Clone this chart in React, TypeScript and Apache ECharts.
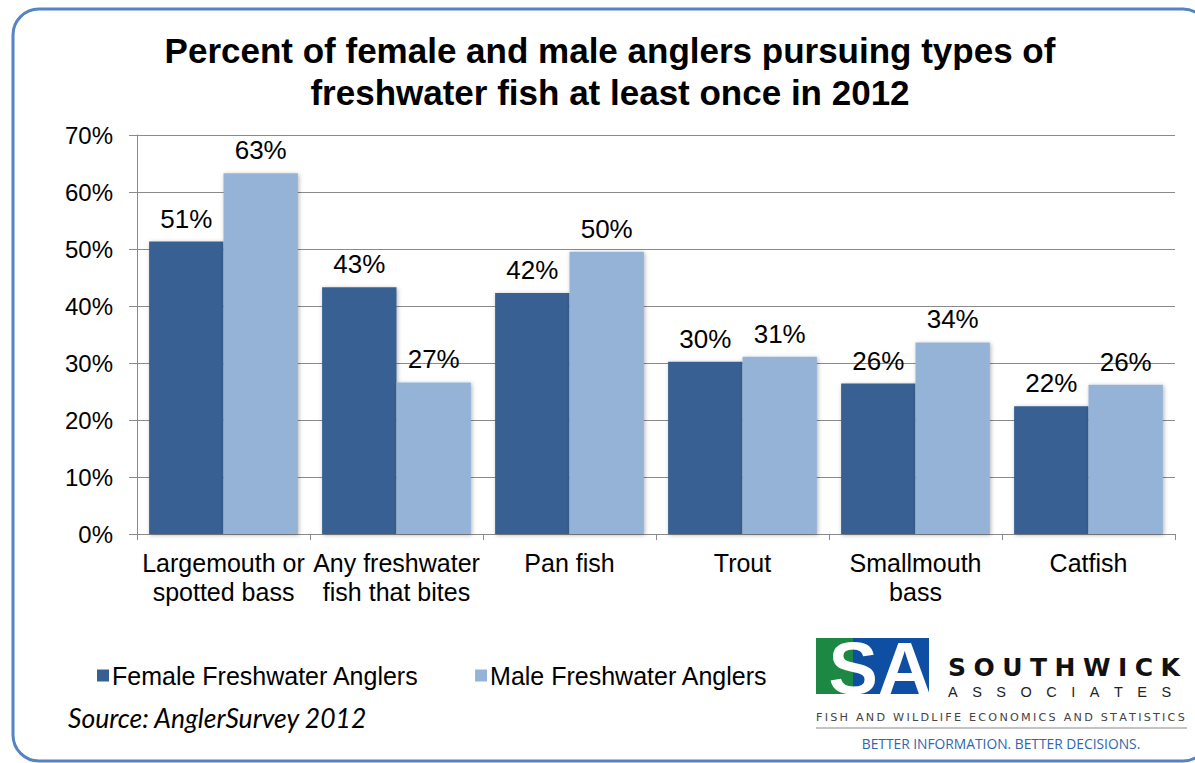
import React, { useEffect, useRef } from "react";
import * as echarts from "echarts";

const categories = [
  "Largemouth or\nspotted bass",
  "Any freshwater\nfish that bites",
  "Pan fish",
  "Trout",
  "Smallmouth\nbass",
  "Catfish",
];
const femaleValues = [51.3, 43.3, 42.3, 30.2, 26.4, 22.4];
const maleValues = [63.3, 26.6, 49.5, 31.1, 33.6, 26.2];
const seriesNames = ["Female Freshwater Anglers", "Male Freshwater Anglers"];
const yTicks = { min: 0, max: 70, interval: 10 };
const titleLines = [
  "Percent of female and male anglers pursuing types of",
  "freshwater fish at least once in 2012",
];
const sourceText = "Source: AnglerSurvey 2012";

const FONT = '"Liberation Sans", Arial, sans-serif';
const DARK = "#376092";
const LIGHT = "#95B3D7";
const GRID = "#8A8A8A";

const spaced = (s: string, sep: string) => s.split("").join(sep);

function text(x: number, y: number, t: string, st: any) {
  return {
    type: "text",
    x,
    y,
    silent: true,
    style: {
      text: t,
      fill: "#000",
      fontFamily: FONT,
      align: st.align || "left",
      textAlign: st.align || "left",
      verticalAlign: "middle",
      textVerticalAlign: "middle",
      ...st,
    },
  };
}

export default function App() {
  const ref = useRef<HTMLDivElement>(null);

  useEffect(() => {
    if (!ref.current) return;
    const chart = echarts.init(ref.current, undefined, { renderer: "svg" });
    const pct = (p: any) => Math.round(p.value) + "%";
    const barLabel = {
      show: true,
      position: "top",
      distance: 10,
      formatter: pct,
      color: "#000",
      fontSize: 26,
      fontFamily: FONT,
    };
    const shadow = {
      shadowBlur: 4,
      shadowColor: "rgba(0,0,0,0.3)",
      shadowOffsetX: 1,
      shadowOffsetY: 1,
    };

    chart.setOption({
      animation: false,
      backgroundColor: "#fff",
      textStyle: { fontFamily: FONT },
      grid: { left: 137, right: 20, top: 135, bottom: 229, containLabel: false },
      legend: {
        left: 92,
        top: 658,
        icon: "rect",
        itemWidth: 12,
        itemHeight: 12,
        itemGap: 56,
        textStyle: { fontSize: 25, color: "#000", fontFamily: FONT, padding: [0, 0, 0, -2] },
        data: seriesNames,
      },
      xAxis: {
        type: "category",
        data: categories,
        axisLine: { lineStyle: { color: GRID, width: 1 } },
        axisTick: { show: true, length: 6, lineStyle: { color: GRID } },
        axisLabel: {
          color: "#000",
          fontSize: 25,
          lineHeight: 29,
          margin: 14,
          interval: 0,
          fontFamily: FONT,
        },
      },
      yAxis: {
        type: "value",
        min: yTicks.min,
        max: yTicks.max,
        interval: yTicks.interval,
        axisLine: { show: true, lineStyle: { color: GRID, width: 1 } },
        axisTick: { show: true, length: 8, lineStyle: { color: GRID } },
        splitLine: { lineStyle: { color: GRID, width: 1 } },
        axisLabel: {
          formatter: "{value}%",
          color: "#000",
          fontSize: 24,
          margin: 24,
          fontFamily: FONT,
        },
      },
      series: [
        {
          name: seriesNames[0],
          type: "bar",
          data: femaleValues,
          barGap: "0%",
          barCategoryGap: "14%",
          itemStyle: { color: DARK, ...shadow },
          label: barLabel,
        },
        {
          name: seriesNames[1],
          type: "bar",
          data: maleValues,
          barGap: "0%",
          barCategoryGap: "14%",
          itemStyle: { color: LIGHT, ...shadow },
          label: barLabel,
        },
      ],
      graphic: [
        {
          type: "rect",
          silent: true,
          shape: { x: 13, y: 9, width: 1196, height: 752, r: 26 },
          style: { fill: "none", stroke: "#5484C1", lineWidth: 3 },
        },
        text(610, 50, titleLines[0], { fontSize: 35, fontWeight: "bold", align: "center" }),
        text(610, 92, titleLines[1], { fontSize: 35, fontWeight: "bold", align: "center" }),
        text(68, 718, sourceText, {
          fontSize: 26.5,
          fontStyle: "italic",
          fontFamily: "Lato, 'Open Sans', sans-serif",
        }),
        // Southwick Associates logo block
        { type: "rect", silent: true, shape: { x: 816, y: 638, width: 37, height: 56 }, style: { fill: "#1C8843" } },
        { type: "rect", silent: true, shape: { x: 853, y: 638, width: 76, height: 56 }, style: { fill: "#0F4FA3" } },
        text(880, 668, "SA", { fontSize: 74, fontWeight: "bold", fill: "#fff", align: "center" }),
        text(948, 667, spaced("SOUTHWICK", "\u2009\u200A"), {
          fontSize: 25,
          fontWeight: "bold",
          fontFamily: '"DejaVu Sans", sans-serif',
          fill: "#111",
        }),
        text(948, 692, spaced("ASSOCIATES", "\u2003"), {
          fontSize: 14.5,
          fontFamily: FONT,
          fill: "#222",
        }),
        text(816, 717, spaced("FISH AND WILDLIFE ECONOMICS AND STATISTICS", "\u2009"), {
          fontSize: 11.2,
          fontFamily: '"DejaVu Sans", sans-serif',
          fill: "#444",
        }),
        {
          type: "line",
          silent: true,
          shape: { x1: 816, y1: 728, x2: 1187, y2: 728 },
          style: { stroke: "#B0B0B0", lineWidth: 1.5 },
        },
        text(1001, 743, "BETTER INFORMATION. BETTER DECISIONS.", {
          fontSize: 13.8,
          fontFamily: '"Open Sans", sans-serif',
          fill: "#2F66AE",
          align: "center",
        }),
      ],
    });
    return () => chart.dispose();
  }, []);

  return (
    <div
      ref={ref}
      style={{ position: "fixed", left: 0, top: 0, width: 1195, height: 763, background: "#fff" }}
    />
  );
}
